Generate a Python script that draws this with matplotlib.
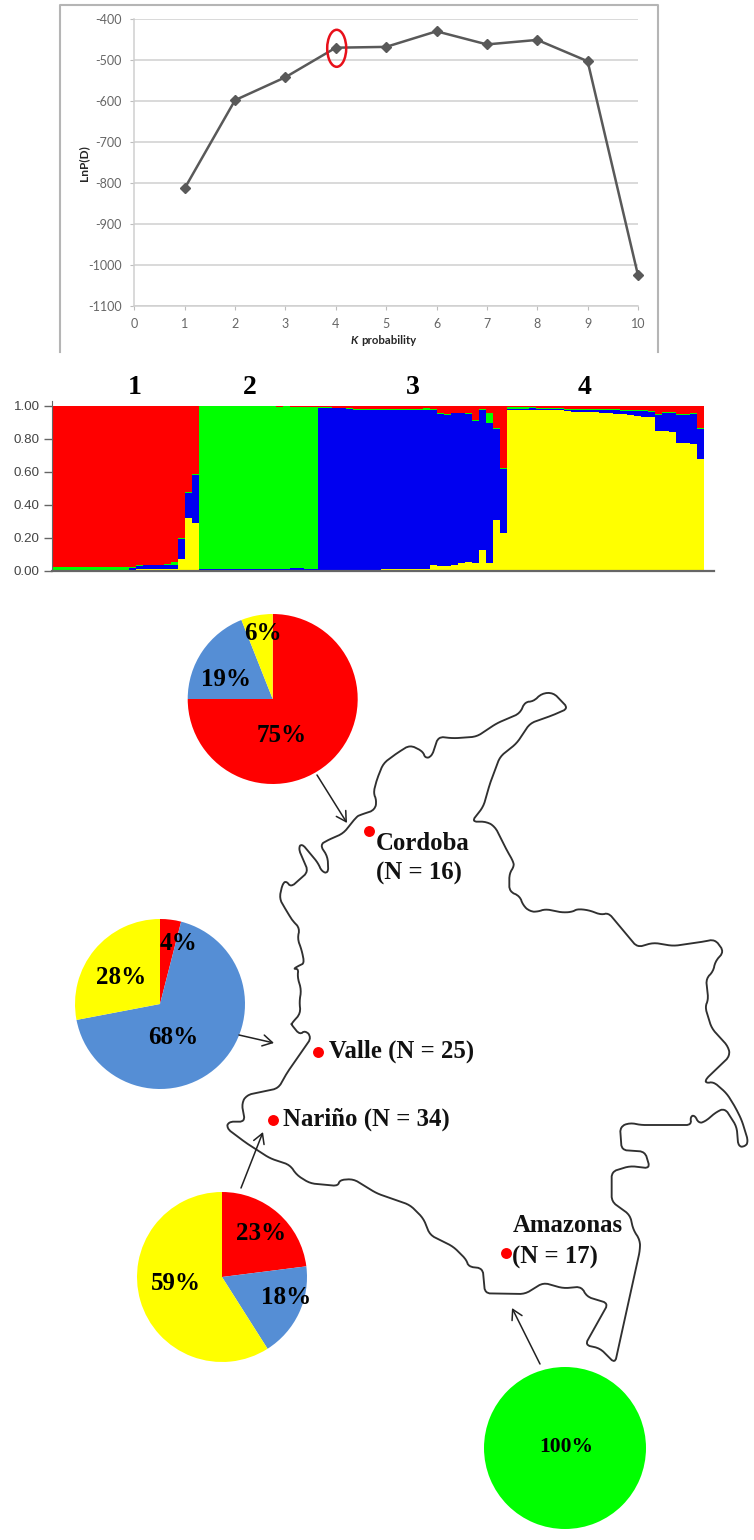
import numpy as np
import matplotlib
matplotlib.use('Agg')
import matplotlib.pyplot as plt
from matplotlib.patches import Ellipse

W, H = 754, 1540

# K probability curve
k_vals = [1, 2, 3, 4, 5, 6, 7, 8, 9, 10]
lnp_vals = [-813, -598, -542, -470, -468, -430, -462, -451, -503, -1025]

# structure plot, cumulative tops per individual (red fills up to 1)
yellow_top = [.005, .005, .005, .005, .005, .005, .005, .005, .005, .005, .005,
              .006, .012, .012, .012, .012, .012, .012, .07, .32, .29,
              .001, .001, .001, .001, .001, .001, .001, .001, .001, .001, .001, .001, .001, .001, .001, .002, .002,
              .003, .003, .003, .003, .003, .003, .003, .003, .005, .012, .008, .012, .008, .008, .012, .01, .035,
              .03, .03, .035, .045, .05, .045, .123, .045, .31, .23,
              .976, .976, .976, .975, .975, .975, .975, .975, .97, .965, .965, .965, .965, .96, .955, .953, .95,
              .945, .94, .935, .935, .85, .845, .84, .777, .777, .77, .675]
blue_top = [.007, .007, .007, .007, .007, .007, .007, .007, .007, .007, .007,
            .016, .027, .032, .032, .032, .037, .037, .19, .47, .58,
            .009, .009, .009, .009, .009, .009, .009, .009, .009, .009, .009, .009, .009, .014, .014, .012, .012,
            .988, .988, .985, .985, .98, .975, .975, .975, .975, .975, .975, .975, .975, .978, .975, .975, .975,
            .951, .945, .955, .955, .95, .91, .976, .895, .86, .617,
            .98, .98, .98, .99, .98, .98, .98, .98, .978, .975, .975, .975, .975, .975, .975, .975, .97,
            .97, .97, .97, .965, .945, .955, .955, .945, .945, .95, .86]
green_top = [.025, .025, .025, .025, .025, .025, .025, .025, .025, .025, .025,
             .021, .032, .037, .037, .037, .042, .05, .2, .475, .585,
             .997, .997, .997, .997, .997, .997, .997, .997, .997, .997, .997, .992, .997, .992, .992, .995, .995,
             .993, .993, .99, .99, .985, .98, .98, .98, .98, .98, .98, .98, .98, .983, .98, .985, .98,
             .956, .95, .96, .96, .955, .915, .98, .955, .865, .622,
             .995, .995, .995, .995, .985, .985, .985, .985, .983, .98, .98, .98, .98, .98, .98, .98, .975,
             .975, .975, .975, .97, .95, .965, .965, .95, .95, .955, .865]
bar_ticks = [0.0, 0.2, 0.4, 0.6, 0.8, 1.0]
group_labels = ['1', '2', '3', '4']
group_x = [135, 250, 413, 585]

# pies
pie_sizes = [[75, 19, 6], [4, 68, 28], [23, 18, 59], [100]]
pie_colors = [['#ff0000', '#558ed5', '#ffff00'], ['#ff0000', '#558ed5', '#ffff00'],
              ['#ff0000', '#558ed5', '#ffff00'], ['#00ff00']]
pie_pos = [(272.7, 699, 85), (160, 1004, 85), (222, 1277, 85), (565, 1448, 81)]

# map outline, one piece per crop: (x0, y0), points at 3x
west = [(695, 1270), (722, 1240), (718, 1205), (724, 1170), (712, 1130), (716, 1105), (698, 1108), (720, 1095), (733, 1090),
        (725, 1050), (712, 1015), (720, 985), (700, 965), (690, 950), (672, 920), (658, 895), (668, 850), (680, 843),
        (692, 862), (745, 815), (715, 745), (725, 730), (775, 790), (785, 815), (805, 820), (803, 770), (780, 735),
        (800, 722), (850, 700), (890, 650)]
north = [(420, 405), (465, 390), (470, 360), (460, 340), (470, 300), (490, 250), (530, 220), (570, 195), (610, 215),
         (615, 235), (635, 230), (655, 170), (700, 175), (770, 170), (830, 130), (900, 100), (915, 65), (940, 65),
         (965, 40), (1000, 38), (1045, 85), (1000, 105), (930, 130), (890, 190), (840, 230), (810, 310), (790, 380),
         (755, 425), (800, 425), (825, 440), (860, 510), (880, 545)]
middle = [(42, 20), (28, 40), (28, 95), (60, 108), (68, 135), (90, 155), (115, 155), (135, 147), (165, 153), (190, 158),
          (220, 155), (230, 147), (265, 150), (305, 165), (325, 158), (412, 262)]
east = [(640, 68), (700, 78), (790, 65), (825, 58), (852, 95), (825, 125), (820, 155), (798, 175), (805, 240), (795, 260),
        (815, 325), (865, 380), (870, 408), (795, 480), (800, 490), (820, 485), (860, 520), (885, 560), (905, 600),
        (925, 665), (915, 680), (895, 680), (890, 620), (855, 565), (830, 575), (795, 605), (775, 610), (765, 585),
        (750, 590), (755, 615), (600, 615), (570, 608), (540, 620), (545, 690), (615, 695), (630, 745), (570, 738),
        (515, 755), (515, 845), (570, 885), (580, 930), (600, 960), (600, 990), (525, 1330), (480, 1285), (435, 1275),
        (505, 1150), (440, 1130), (425, 1100), (370, 1105), (310, 1088), (255, 1122), (135, 1120), (128, 1045), (85, 1040)]
south = [(770, 900), (730, 860), (660, 825), (640, 775), (600, 735), (500, 700), (430, 657), (388, 660), (385, 678),
         (300, 670), (260, 645), (240, 615), (180, 595), (110, 550), (50, 505), (55, 485), (105, 485), (95, 430), (110, 405),
         (205, 385), (230, 340), (305, 232), (285, 210), (270, 225), (245, 195)]
pieces = [(60, 600, west), (220, 680, north), (500, 860, middle), (440, 920, east), (210, 960, south)]

sites = [(368.7, 830.7), (318.3, 1051.7), (272.7, 1120.3), (506, 1253.3)]
site_text = [('Cordoba', 376, 843), ('(N = 16)', 376, 873), ('Valle (N = 25)', 329, 1051),
             ('Nariño (N = 34)', 283, 1119), ('Amazonas', 513, 1226), ('(N = 17)', 512, 1257)]
pie_text = [('75%', 282, 736), ('19%', 226, 680), ('6%', 263, 633), ('4%', 178, 943), ('28%', 121, 978),
            ('68%', 173, 1037), ('23%', 261, 1233), ('18%', 286, 1298), ('59%', 176, 1283)]
arrows = [(317, 775, 347, 823), (239, 1035, 274, 1043), (241, 1188, 263, 1132), (540, 1364, 512, 1308)]


def px_axes(left, top, right, bottom):
    return fig.add_axes([left / W, 1 - bottom / H, (right - left) / W, (bottom - top) / H])


def round_corners(pts, d=3.0):
    # cut each corner a little so the traced outline is not angular
    out = []
    n = len(pts)
    for i in range(n):
        p, a, b = pts[i], pts[i - 1], pts[(i + 1) % n]
        la, lb = np.linalg.norm(a - p), np.linalg.norm(b - p)
        out.append(p + (a - p) * min(0.3, d / la))
        out.append(p + (b - p) * min(0.3, d / lb))
    return np.array(out)


fig = plt.figure(figsize=(W / 100, H / 100), dpi=100, facecolor='white')

# top chart
ax1 = px_axes(134.3, 19, 638, 306)
ax1.plot(k_vals, lnp_vals, color='#595959', lw=1.8, marker='D', ms=5.2, zorder=3, clip_on=False)
ax1.set_xlim(0, 10)
ax1.set_ylim(-1100, -400)
ax1.set_xticks(range(0, 11))
ax1.set_xticklabels([str(v) for v in range(0, 11)], family='Lato')
ax1.set_yticks(range(-1100, -399, 100))
ax1.set_yticklabels([str(v) for v in range(-1100, -399, 100)], family='Lato')
ax1.grid(axis='y', color='#cfcfcf', lw=1.1)
ax1.set_axisbelow(True)
for s in ['top', 'right']:
    ax1.spines[s].set_visible(False)
for s in ['left', 'bottom']:
    ax1.spines[s].set_color('#cfcfcf')
    ax1.spines[s].set_linewidth(1.1)
ax1.tick_params(labelcolor='#666666', labelsize=9, length=3, width=0.8, color='#bdbdbd', pad=6)
ax1.tick_params(axis='x', pad=6)

# structure plot
ax2 = px_axes(52, 401, 714, 570.7)
x = np.arange(len(yellow_top))
yt, bt, gt = np.array(yellow_top), np.array(blue_top), np.array(green_top)
for bottom, top, col in [(0 * yt, yt, '#ffff00'), (yt, bt, '#0000f0'), (bt, gt, '#00ff00'), (gt, 1 + 0 * yt, '#ff0000')]:
    ax2.bar(x, top - bottom, bottom=bottom, width=1.0, align='edge', color=col, lw=0)
ax2.set_xlim(0, 94.47)
ax2.set_ylim(0, 1.03)
ax2.set_xticks([])
ax2.set_yticks(bar_ticks)
ax2.set_yticklabels(['%.2f' % v for v in bar_ticks], family='Liberation Sans', fontsize=9.6, color='#444444')
ax2.tick_params(axis='y', length=5.8, width=1, color='#666666', pad=3)
for s in ['top', 'right']:
    ax2.spines[s].set_visible(False)
ax2.spines['left'].set_color('#666666')
ax2.spines['bottom'].set_color('#666666')
ax2.spines['bottom'].set_linewidth(1.6)

# overlay in picture pixels, y flipped for pie
ov = fig.add_axes([0, 0, 1, 1])
for sizes, cols, (cx, cy, r) in zip(pie_sizes, pie_colors, pie_pos):
    ov.pie(sizes, colors=cols, center=(cx, H - cy), radius=r, startangle=90, counterclock=False,
           wedgeprops={'linewidth': 0})
ov.set_xlim(0, W)
ov.set_ylim(0, H)
ov.set_aspect('auto')
ov.axis('off')

outline = []
for x0, y0, pts in pieces:
    outline += [(x0 + p[0] / 3, H - (y0 + p[1] / 3)) for p in pts]
outline = round_corners(round_corners(np.array(outline)), 1.5)
outline = np.vstack([outline, outline[:1]])
ov.plot(outline[:, 0], outline[:, 1], color='#303030', lw=1.35, solid_joinstyle='round')

# chart frame
ov.plot([60, 60, 658, 658], [H - 352, H - 5, H - 5, H - 352], color='#b5b5b5', lw=1.5)
ov.add_patch(Ellipse((336.7, H - 48.3), 19, 37, fc='none', ec='#e8101a', lw=1.8, zorder=5))

ov.text(84, H - 162.7, 'LnP(D)', rotation=90, ha='center', va='center', family='Lato', weight='bold',
        fontsize=8.6, color='#262626')
ov.text(358, H - 341, 'K', ha='right', va='center', family='Lato', weight='bold', style='italic',
        fontsize=8.2, color='#262626')
ov.text(361, H - 341, 'probability', ha='left', va='center', family='Lato', weight='bold',
        fontsize=8.2, color='#262626')

for lab, gx in zip(group_labels, group_x):
    ov.text(gx, H - 387, lab, ha='center', va='center', family='Liberation Serif', weight='bold', fontsize=20)
for txt, tx, ty in pie_text:
    ov.text(tx, H - ty, txt, ha='center', va='center', family='Liberation Serif', weight='bold', fontsize=18)
ov.text(566, H - 1447, '100%', ha='center', va='center', family='Liberation Serif', weight='bold', fontsize=15.5)
for txt, tx, ty in site_text:
    ov.text(tx, H - ty, txt, ha='left', va='center', family='Liberation Serif', weight='bold', fontsize=17.8,
            color='#111111')
ov.scatter([s[0] for s in sites], [H - s[1] for s in sites], s=62, color='#ff0000', lw=0, zorder=5)
for x1, y1, x2, y2 in arrows:
    ov.annotate('', xy=(x2, H - y2), xytext=(x1, H - y1),
                arrowprops=dict(arrowstyle='->,head_length=0.7,head_width=0.4', color='#222222', lw=1.1,
                                shrinkA=0, shrinkB=0))

fig.savefig('out.png', dpi=100)
